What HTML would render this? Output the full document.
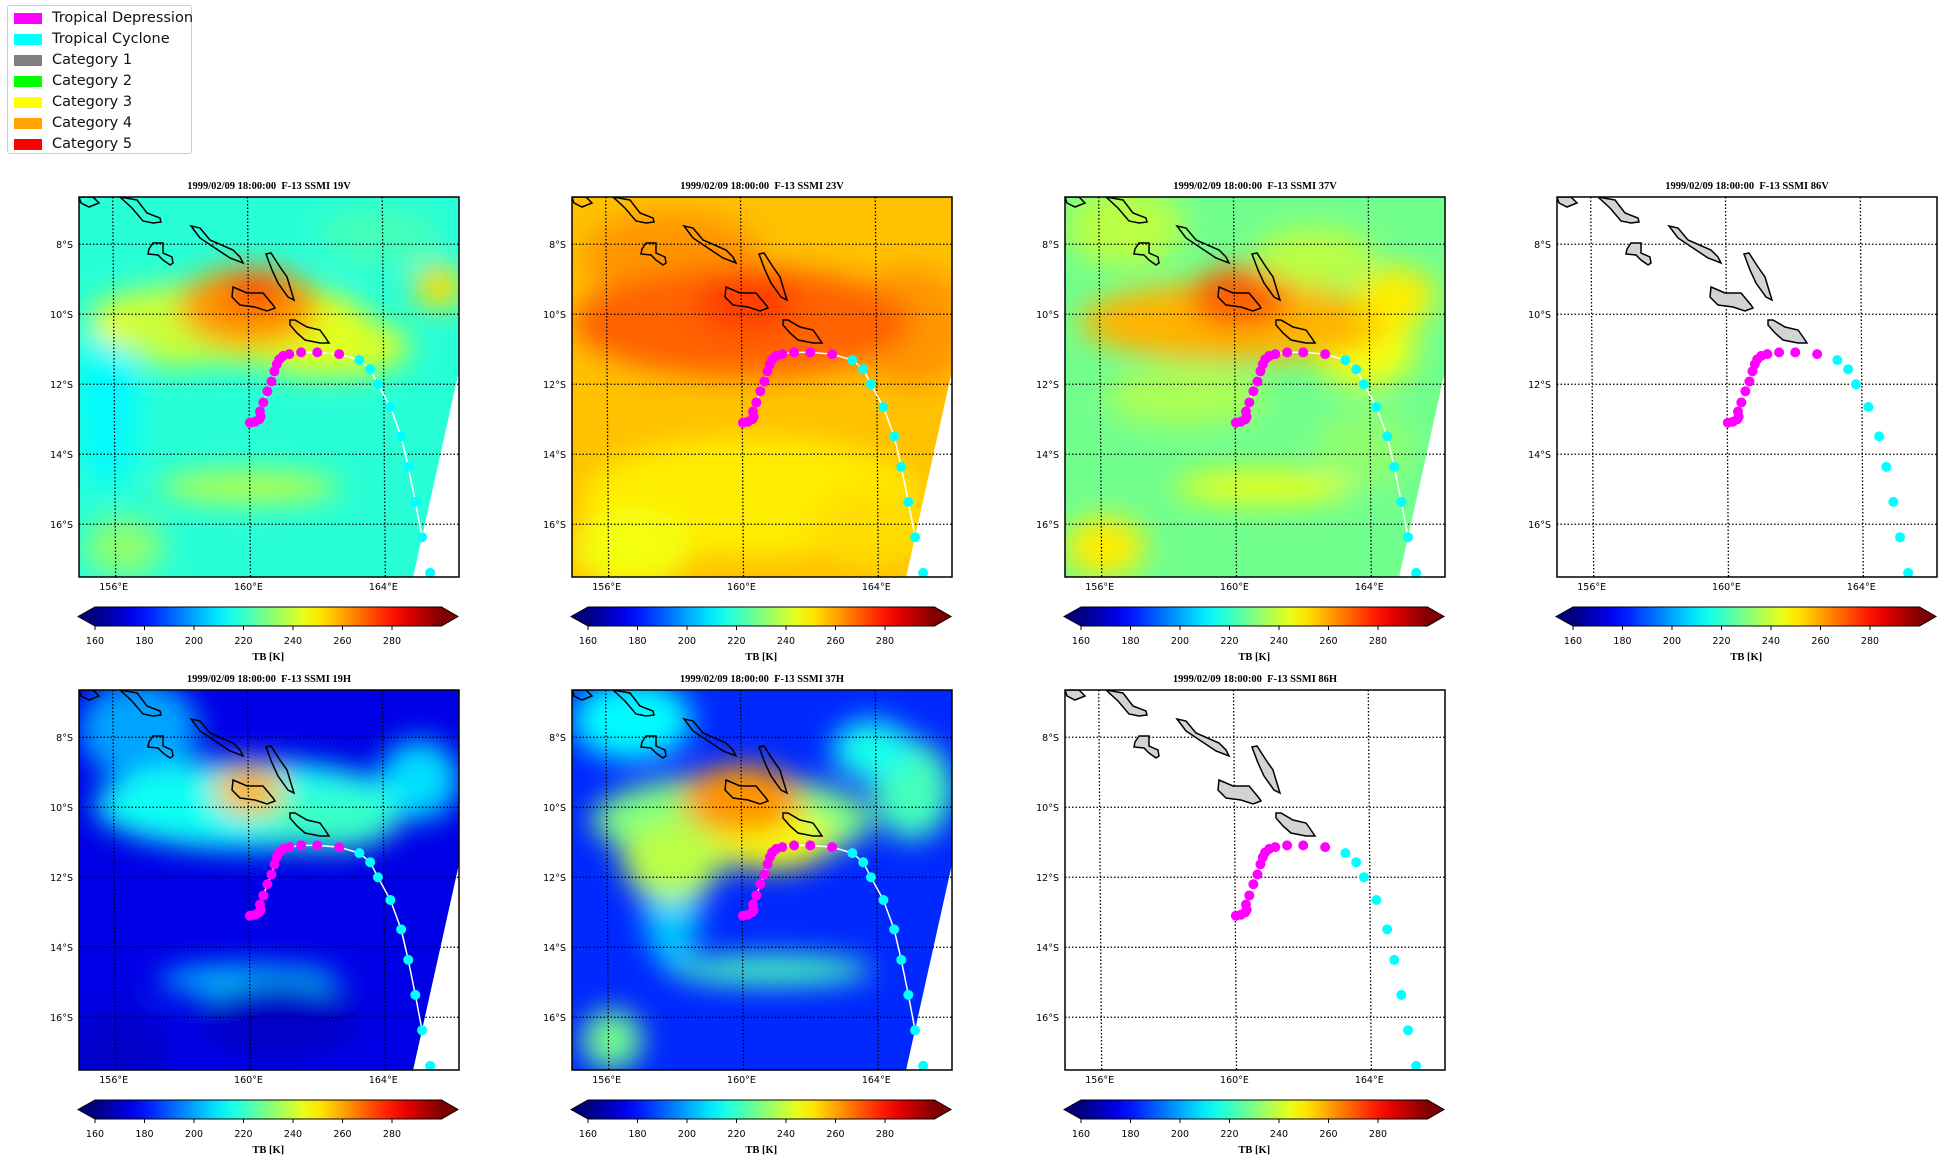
<!DOCTYPE html>
<html><head><meta charset="utf-8">
<style>
html,body{margin:0;padding:0;background:#fff;}
body{width:1946px;height:1162px;position:relative;overflow:hidden;font-family:"DejaVu Sans","Liberation Sans",sans-serif;}
#legend{position:absolute;left:7px;top:5px;width:185px;height:149px;border:1px solid #ccc;border-radius:3px;background:#fff;box-sizing:border-box;}
.lg{position:absolute;left:6px;height:14px;font-size:14.5px;line-height:14px;}
.lg span.p{position:absolute;left:0;top:0;width:28px;height:11px;}
.lg span.t{position:absolute;left:38px;top:-2px;white-space:nowrap;color:#111;}
svg text{font-family:"DejaVu Sans","Liberation Sans",sans-serif;}
</style></head>
<body>
<div id="legend"></div>
<svg id="fig" width="1946" height="1162" style="position:absolute;left:0;top:0"></svg>
<script>
// ---- data ----
const trackLon = [160.07,160.22,160.35,160.39,160.37,160.47,160.59,160.71,160.80,160.87,160.94,161.06,161.24,161.59,162.07,162.72,163.32,163.64,163.87,164.24,164.56,164.77,164.98,165.18,165.42];
const trackLat = [13.10,13.07,13.00,12.93,12.78,12.52,12.20,11.92,11.63,11.43,11.29,11.19,11.14,11.09,11.09,11.14,11.31,11.57,12.00,12.65,13.49,14.36,15.36,16.37,17.39];
const trackCat = ['TD','TD','TD','TD','TD','TD','TD','TD','TD','TD','TD','TD','TD','TD','TD','TD','TC','TC','TC','TC','TC','TC','TC','TC','TC'];
const legendNames = ['Tropical Depression','Tropical Cyclone','Category 1','Category 2','Category 3','Category 4','Category 5'];
const legendColors = ['#ff00ff','#00ffff','#808080','#00ff00','#ffff00','#ffa500','#ff0000'];
const catColor = {TD:'#ff00ff',TC:'#00ffff'};
const latTicks = [8,10,12,14,16];
const lonTicks = [156,160,164];
const cbTicks = [160,180,200,220,240,260,280];
const panelTitles = ['19V','23V','37V','86V','19H','37H','86H'];
const panelBase = [218,256,228,null,174,183,null];
// blobs: [px, py, rx, ry, TB]
const fields = [
 [[30,200,30,90,212],[150,125,140,40,246],[100,130,60,40,240],[250,150,80,30,243],[170,110,70,40,262],[175,95,30,20,272],[360,90,25,22,252],[170,290,90,16,238],[45,350,40,30,232],[300,40,60,30,222]],
 [[100,60,90,45,262],[340,130,60,60,262],[170,125,170,55,269],[175,105,50,30,274],[180,300,170,60,250],[60,350,60,40,246],[300,330,60,40,252]],
 [[60,30,60,40,238],[300,150,50,40,246],[170,125,155,40,258],[175,100,50,30,270],[200,290,90,15,246],[40,350,40,30,250],[330,100,40,30,250],[120,200,80,30,236],[250,60,60,30,238],[300,250,50,40,232]],
 null,
 [[60,40,60,50,200],[340,90,40,40,208],[170,115,155,45,214],[250,130,70,30,220],[170,100,35,25,258],[170,290,90,14,206],[40,360,50,40,170],[200,330,80,40,170]],
 [[60,30,60,40,212],[340,100,40,50,222],[100,200,30,80,205],[160,130,140,45,230],[200,150,60,30,246],[100,170,50,40,238],[170,110,60,35,262],[200,280,100,15,222],[40,350,30,30,228],[300,60,40,30,215]],
 null
];
const islands = [
 [[0,0],[14,0],[20,6],[10,10],[2,6]],
 [[41,0],[58,3],[68,16],[81,21],[82,25],[74,26],[64,24],[53,11]],
 [[112,29],[121,31],[131,43],[154,53],[161,60],[164,66],[151,61],[121,41]],
 [[74,46],[84,46],[84,56],[93,60],[94,66],[91,68],[84,63],[79,58],[69,57],[70,52]],
 [[187,57],[192,56],[201,70],[208,80],[211,90],[215,103],[209,100],[199,86],[193,73]],
 [[154,90],[168,96],[184,96],[194,108],[196,111],[188,114],[176,110],[161,108],[153,100]],
 [[211,123],[216,123],[228,130],[241,133],[246,140],[250,146],[241,146],[226,143],[218,136],[211,128]]
];
// ---- layout ----
const panelX = [79,572,1065,1557,79,572,1065];
const panelY = [197,197,197,197,690,690,690];
const W = 380, H = 380;
const xs = lon => (lon-155)*33.7;
const ys = lat => (lat-6.65)*35;
const cbx = v => 16 + (v-160)*2.475;
function jet(v){
 let t=(v-160)/140; t=Math.max(0,Math.min(1,t));
 const c=x=>Math.round(255*Math.max(0,Math.min(1,x)));
 return `rgb(${c(1.5-Math.abs(4*t-3))},${c(1.5-Math.abs(4*t-2))},${c(1.5-Math.abs(4*t-1))})`;
}
const NS='http://www.w3.org/2000/svg';
function el(tag,attrs,parent){const e=document.createElementNS(NS,tag);for(const k in attrs)e.setAttribute(k,attrs[k]);if(parent)parent.appendChild(e);return e;}
const fig=document.getElementById('fig');
const defs=el('defs',{},fig);
const blur=el('filter',{id:'blur',x:'-50%',y:'-50%',width:'200%',height:'200%'},defs);
el('feGaussianBlur',{stdDeviation:'14'},blur);
const grad=el('linearGradient',{id:'jet',x1:'0',x2:'1',y1:'0',y2:'0'},defs);
for(let i=0;i<=20;i++){el('stop',{offset:(i/20),'stop-color':jet(160+i*7)},grad);}

// legend
const lg=document.getElementById('legend');
legendNames.forEach((n,i)=>{
 const d=document.createElement('div');d.className='lg';d.style.top=(7+i*21)+'px';
 
 
 d.innerHTML=`<span class="p" style="background:${legendColors[i]}"></span><span class="t">${n}</span>`;
 lg.appendChild(d);
});

panelTitles.forEach((ttl,pi)=>{
 const g=el('g',{transform:`translate(${panelX[pi]},${panelY[pi]})`},fig);
 
 
 const cp=el('clipPath',{id:'cp'+pi},defs);el('rect',{x:0,y:0,width:W,height:H},cp);
 const t=el('text',{x:W/2,y:-8,'text-anchor':'middle','font-size':'10.5','font-weight':'bold',style:'font-family:"Liberation Serif","DejaVu Serif",serif'},g);
 t.textContent='1999/02/09 18:00:00\u00a0 F-13 SSMI '+ttl;
 
 
 const map=el('g',{'clip-path':`url(#cp${pi})`},g);
 if(panelBase[pi]!==null){
  el('rect',{x:0,y:0,width:W,height:H,fill:jet(panelBase[pi])},map);
  const fg=el('g',{filter:'url(#blur)'},map);
  fields[pi].forEach(b=>{el('ellipse',{cx:b[0],cy:b[1],rx:b[2],ry:b[3],fill:jet(b[4])},fg);});
  el('polygon',{points:`${W},174 ${W+5},${H+5} 333,${H+5}`,fill:'#fff'},map);
 }
 const grid=el('g',{stroke:'#000','stroke-width':'1.3','stroke-dasharray':'1.5,2',fill:'none'},map);
 latTicks.forEach(l=>el('line',{x1:0,x2:W,y1:ys(l),y2:ys(l)},grid));
 lonTicks.forEach(l=>el('line',{x1:xs(l),x2:xs(l)+3,y1:0,y2:H},grid));
 const isl=el('g',{},map);
 
 
 islands.forEach(p=>el('polygon',{points:p.map(q=>q.join(',')).join(' '),fill:panelBase[pi]===null?'#d3d3d3':'none',stroke:'#000','stroke-width':'1.5'},isl));
 const trk=el('g',{},map);
 
 
 if(panelBase[pi]!==null){
  el('polyline',{points:trackLon.map((lo,i)=>xs(lo)+','+ys(trackLat[i])).join(' '),fill:'none',stroke:'#fff','stroke-width':'1.5'},trk);
 }
 trackLon.forEach((lo,i)=>{
  const c=el('circle',{cx:xs(lo),cy:ys(trackLat[i]),r:5,fill:catColor[trackCat[i]]},trk);
  
  
 });
 el('rect',{x:0,y:0,width:W,height:H,fill:'none',stroke:'#000','stroke-width':'1.5'},g);
 latTicks.forEach(l=>{const tx=el('text',{x:-6,y:ys(l)+3.5,'text-anchor':'end','font-size':'9.5'},g);tx.textContent=l+'°S';});
 lonTicks.forEach(l=>{const tx=el('text',{x:xs(l)+1,y:H+13,'text-anchor':'middle','font-size':'9.5'},g);tx.textContent=l+'°E';});
 // colorbar
 const cb=el('g',{transform:`translate(0,${H+30})`},g);
 
 
 el('polygon',{points:`${cbx(160)},0 ${cbx(160)},19 -1,9.5`,fill:'#00007f'},cb);
 el('polygon',{points:`${cbx(300)},0 ${cbx(300)},19 ${W-1},9.5`,fill:'#7f0000'},cb);
 el('rect',{x:cbx(160),y:0,width:cbx(300)-cbx(160),height:19,fill:'url(#jet)'},cb);
 el('polygon',{points:`-1,9.5 ${cbx(160)},0 ${cbx(300)},0 ${W-1},9.5 ${cbx(300)},19 ${cbx(160)},19`,fill:'none',stroke:'#000','stroke-width':'1'},cb);
 cbTicks.forEach(v=>{
  el('line',{x1:cbx(v),x2:cbx(v),y1:19,y2:23,stroke:'#000','stroke-width':'1'},cb);
  const tx=el('text',{x:cbx(v),y:37,'text-anchor':'middle','font-size':'9.5'},cb);tx.textContent=v;
 });
 const lb=el('text',{x:cbx(230),y:53,'text-anchor':'middle','font-size':'10.5','font-weight':'bold',style:'font-family:"Liberation Serif","DejaVu Serif",serif'},cb);
 lb.textContent='TB [K]';
 
 
});
</script>
</body></html>
